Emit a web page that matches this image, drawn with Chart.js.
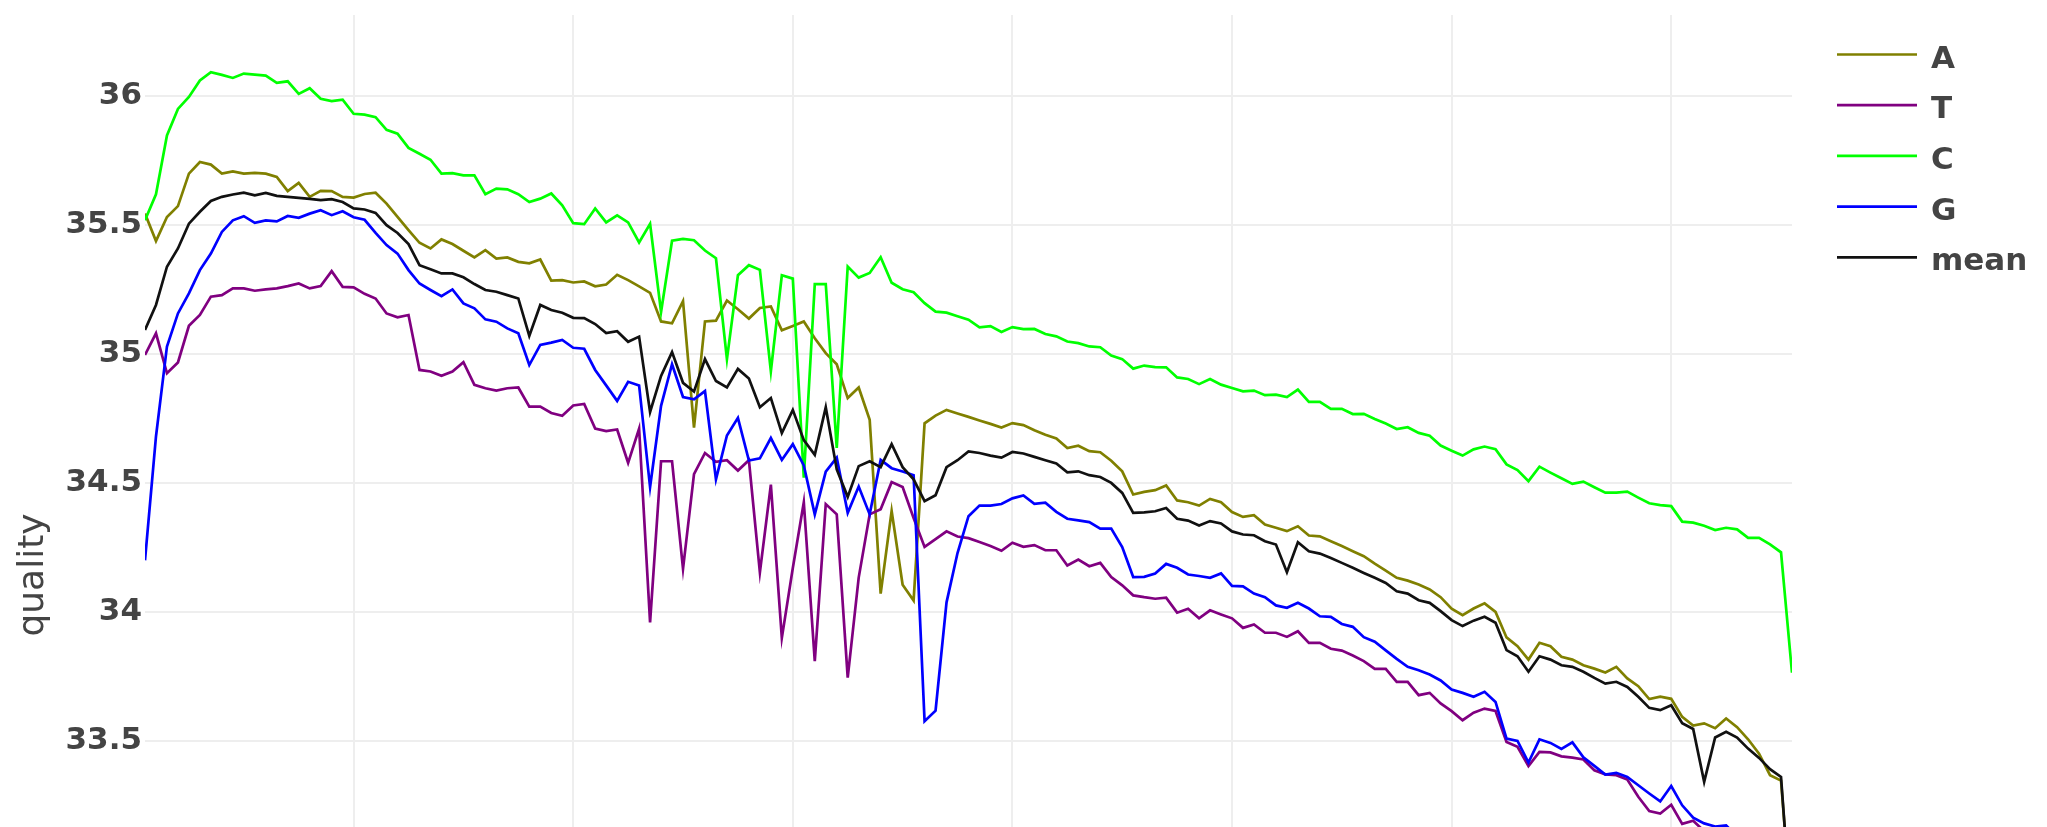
<!DOCTYPE html>
<html>
<head>
<meta charset="utf-8">
<script src="https://cdn.jsdelivr.net/npm/chart.js@4.4.1/dist/chart.umd.min.js"></script>
<style>
  html, body { margin: 0; padding: 0; background: #fff; }
  #wrap { width: 2047px; height: 827px; }
</style>
</head>
<body>
<div id="wrap"><canvas id="quality-chart"></canvas></div>
<script>
// read position along the read
const positions = [
  1, 2, 3, 4, 5, 6, 7, 8, 9, 10, 11, 12, 13, 14, 15, 16, 17, 18, 19, 20,
  21, 22, 23, 24, 25, 26, 27, 28, 29, 30, 31, 32, 33, 34, 35, 36, 37, 38, 39, 40,
  41, 42, 43, 44, 45, 46, 47, 48, 49, 50, 51, 52, 53, 54, 55, 56, 57, 58, 59, 60,
  61, 62, 63, 64, 65, 66, 67, 68, 69, 70, 71, 72, 73, 74, 75, 76, 77, 78, 79, 80,
  81, 82, 83, 84, 85, 86, 87, 88, 89, 90, 91, 92, 93, 94, 95, 96, 97, 98, 99, 100,
  101, 102, 103, 104, 105, 106, 107, 108, 109, 110, 111, 112, 113, 114, 115, 116, 117, 118, 119, 120,
  121, 122, 123, 124, 125, 126, 127, 128, 129, 130, 131, 132, 133, 134, 135, 136, 137, 138, 139, 140,
  141, 142, 143, 144, 145, 146, 147, 148, 149, 150, 151
];

const qualA = [
  35.544, 35.438, 35.531, 35.573, 35.699, 35.744, 35.734, 35.699, 35.708, 35.699,
  35.702, 35.699, 35.686, 35.631, 35.663, 35.609, 35.632, 35.631, 35.609, 35.606,
  35.620, 35.625, 35.583, 35.531, 35.480, 35.431, 35.409, 35.444, 35.426, 35.400,
  35.374, 35.402, 35.370, 35.374, 35.357, 35.351, 35.366, 35.284, 35.286, 35.277,
  35.281, 35.262, 35.269, 35.307, 35.286, 35.262, 35.237, 35.126, 35.119, 35.205,
  34.714, 35.126, 35.129, 35.207, 35.173, 35.137, 35.178, 35.184, 35.092, 35.108,
  35.126, 35.061, 35.003, 34.960, 34.829, 34.870, 34.745, 34.071, 34.391, 34.105,
  34.044, 34.731, 34.761, 34.783, 34.769, 34.756, 34.742, 34.729, 34.715, 34.732,
  34.724, 34.704, 34.687, 34.672, 34.635, 34.644, 34.623, 34.619, 34.586, 34.545,
  34.455, 34.465, 34.472, 34.490, 34.432, 34.425, 34.412, 34.438, 34.425, 34.387,
  34.368, 34.375, 34.339, 34.326, 34.313, 34.332, 34.296, 34.293, 34.274, 34.255,
  34.235, 34.216, 34.187, 34.160, 34.132, 34.121, 34.106, 34.087, 34.057, 34.012,
  33.987, 34.013, 34.033, 34.000, 33.901, 33.867, 33.815, 33.880, 33.867, 33.826,
  33.815, 33.793, 33.780, 33.765, 33.787, 33.742, 33.712, 33.662, 33.671, 33.663,
  33.593, 33.559, 33.568, 33.549, 33.587, 33.553, 33.506, 33.450, 33.367, 33.346,
  32.800
];

const qualT = [
  34.996, 35.080, 34.925, 34.967, 35.109, 35.151, 35.222, 35.228, 35.254, 35.254,
  35.245, 35.250, 35.254, 35.263, 35.273, 35.254, 35.263, 35.321, 35.260, 35.258,
  35.233, 35.215, 35.157, 35.142, 35.151, 34.938, 34.932, 34.915, 34.932, 34.968,
  34.880, 34.867, 34.858, 34.867, 34.870, 34.796, 34.796, 34.771, 34.760, 34.800,
  34.806, 34.711, 34.701, 34.707, 34.578, 34.711, 33.959, 34.584, 34.584, 34.167,
  34.534, 34.616, 34.582, 34.588, 34.548, 34.588, 34.153, 34.493, 33.899, 34.170,
  34.425, 33.809, 34.418, 34.378, 33.745, 34.133, 34.378, 34.398, 34.503, 34.484,
  34.364, 34.252, 34.282, 34.312, 34.292, 34.286, 34.271, 34.255, 34.237, 34.268,
  34.252, 34.259, 34.239, 34.239, 34.180, 34.203, 34.177, 34.190, 34.135, 34.103,
  34.064, 34.057, 34.051, 34.055, 33.997, 34.012, 33.975, 34.006, 33.990, 33.975,
  33.938, 33.951, 33.919, 33.919, 33.903, 33.925, 33.880, 33.880, 33.857, 33.850,
  33.831, 33.809, 33.779, 33.779, 33.729, 33.729, 33.677, 33.686, 33.645, 33.615,
  33.580, 33.609, 33.625, 33.616, 33.496, 33.477, 33.402, 33.457, 33.455, 33.440,
  33.435, 33.428, 33.386, 33.370, 33.367, 33.350, 33.283, 33.228, 33.218, 33.252,
  33.178, 33.190, 33.150, 33.120, 33.090, 33.050, 33.000, 32.950, 32.880, 32.840,
  32.300
];

const qualC = [
  35.518, 35.619, 35.847, 35.950, 35.996, 36.060, 36.092, 36.082, 36.070, 36.087,
  36.083, 36.079, 36.051, 36.057, 36.008, 36.030, 35.989, 35.980, 35.986, 35.931,
  35.928, 35.918, 35.869, 35.854, 35.799, 35.776, 35.753, 35.699, 35.701, 35.692,
  35.692, 35.619, 35.641, 35.638, 35.619, 35.589, 35.602, 35.622, 35.576, 35.507,
  35.503, 35.564, 35.510, 35.537, 35.510, 35.432, 35.504, 35.163, 35.439, 35.446,
  35.441, 35.401, 35.371, 34.980, 35.305, 35.344, 35.326, 34.933, 35.305, 35.292,
  34.520, 35.271, 35.271, 34.636, 35.339, 35.296, 35.314, 35.375, 35.276, 35.251,
  35.239, 35.197, 35.164, 35.160, 35.146, 35.133, 35.103, 35.108, 35.085, 35.104,
  35.096, 35.097, 35.077, 35.068, 35.048, 35.042, 35.029, 35.026, 34.994, 34.980,
  34.943, 34.955, 34.949, 34.948, 34.909, 34.903, 34.883, 34.903, 34.881, 34.868,
  34.855, 34.858, 34.840, 34.842, 34.833, 34.862, 34.814, 34.814, 34.787, 34.787,
  34.767, 34.768, 34.748, 34.730, 34.709, 34.716, 34.694, 34.683, 34.645, 34.625,
  34.606, 34.630, 34.641, 34.631, 34.572, 34.550, 34.507, 34.563, 34.540, 34.518,
  34.496, 34.505, 34.483, 34.462, 34.462, 34.466, 34.443, 34.421, 34.414, 34.410,
  34.350, 34.346, 34.334, 34.317, 34.326, 34.320, 34.287, 34.287, 34.262, 34.231,
  33.764
];

const qualG = [
  34.200, 34.680, 35.029, 35.157, 35.235, 35.325, 35.389, 35.473, 35.518, 35.534,
  35.508, 35.518, 35.514, 35.535, 35.528, 35.544, 35.557, 35.538, 35.553, 35.530,
  35.520, 35.469, 35.422, 35.389, 35.325, 35.273, 35.248, 35.224, 35.250, 35.196,
  35.177, 35.134, 35.125, 35.099, 35.080, 34.957, 35.035, 35.044, 35.054, 35.024,
  35.020, 34.938, 34.878, 34.818, 34.892, 34.878, 34.484, 34.799, 34.960, 34.833,
  34.824, 34.856, 34.514, 34.684, 34.752, 34.587, 34.595, 34.674, 34.589, 34.650,
  34.568, 34.378, 34.544, 34.598, 34.384, 34.486, 34.378, 34.589, 34.557, 34.544,
  34.530, 33.576, 33.617, 34.037, 34.228, 34.371, 34.412, 34.412, 34.418, 34.440,
  34.451, 34.419, 34.423, 34.388, 34.361, 34.355, 34.348, 34.323, 34.323, 34.251,
  34.135, 34.136, 34.149, 34.186, 34.171, 34.145, 34.139, 34.132, 34.149, 34.101,
  34.099, 34.071, 34.057, 34.025, 34.016, 34.035, 34.013, 33.983, 33.981, 33.953,
  33.942, 33.902, 33.884, 33.851, 33.818, 33.787, 33.774, 33.757, 33.734, 33.699,
  33.686, 33.671, 33.690, 33.651, 33.509, 33.500, 33.416, 33.506, 33.492, 33.469,
  33.494, 33.436, 33.403, 33.369, 33.376, 33.360, 33.328, 33.296, 33.265, 33.325,
  33.250, 33.202, 33.180, 33.168, 33.172, 33.130, 33.080, 33.020, 32.960, 32.900,
  32.400
];

const qualMean = [
  35.093, 35.190, 35.338, 35.409, 35.505, 35.551, 35.593, 35.609, 35.618, 35.625,
  35.615, 35.624, 35.613, 35.609, 35.605, 35.601, 35.596, 35.600, 35.589, 35.564,
  35.560, 35.547, 35.499, 35.469, 35.426, 35.344, 35.328, 35.312, 35.312, 35.297,
  35.271, 35.248, 35.241, 35.228, 35.215, 35.070, 35.190, 35.170, 35.160, 35.140,
  35.139, 35.116, 35.081, 35.088, 35.047, 35.067, 34.775, 34.915, 35.007, 34.888,
  34.854, 34.980, 34.895, 34.870, 34.942, 34.905, 34.793, 34.829, 34.693, 34.783,
  34.666, 34.609, 34.793, 34.552, 34.446, 34.565, 34.584, 34.561, 34.650, 34.561,
  34.514, 34.429, 34.452, 34.561, 34.588, 34.622, 34.616, 34.606, 34.598, 34.620,
  34.614, 34.601, 34.588, 34.575, 34.541, 34.545, 34.530, 34.523, 34.500, 34.461,
  34.384, 34.386, 34.390, 34.403, 34.361, 34.354, 34.335, 34.352, 34.343, 34.312,
  34.300, 34.297, 34.274, 34.261, 34.154, 34.270, 34.235, 34.226, 34.209, 34.190,
  34.171, 34.151, 34.132, 34.112, 34.080, 34.071, 34.045, 34.035, 34.003, 33.968,
  33.945, 33.966, 33.981, 33.958, 33.852, 33.828, 33.768, 33.828, 33.815, 33.793,
  33.787, 33.768, 33.744, 33.722, 33.729, 33.709, 33.671, 33.628, 33.619, 33.638,
  33.568, 33.546, 33.341, 33.513, 33.535, 33.513, 33.470, 33.434, 33.390, 33.360,
  32.780
];

const seriesNames = ["A", "T", "C", "G", "mean"];
const xTicks = [20, 40, 60, 80, 100, 120, 140];
const yTicks = [33.5, 34, 34.5, 35, 35.5, 36];

const seriesValues = [qualA, qualT, qualC, qualG, qualMean];
const seriesColors = ["#808000", "#800080", "#00ff00", "#0000ff", "#111111"];

// legend on the right side plus the rotated y title
const sideLegend = {
  id: "sideLegend",
  afterDraw(chart) {
    const ctx = chart.ctx;
    ctx.save();
    ctx.font = "bold 31px 'DejaVu Sans'";
    ctx.fillStyle = "#444";
    ctx.textBaseline = "alphabetic";
    chart.data.datasets.forEach((ds, i) => {
      const y = 54.5 + i * 50.7;
      ctx.strokeStyle = ds.borderColor;
      ctx.lineWidth = 2.7;
      ctx.beginPath();
      ctx.moveTo(1837, y);
      ctx.lineTo(1917, y);
      ctx.stroke();
      ctx.fillText(ds.label, 1931, y + 13);
    });

    ctx.translate(42.5, 575);
    ctx.rotate(-Math.PI / 2);
    ctx.font = "36px 'DejaVu Sans'";
    ctx.textAlign = "center";
    ctx.fillText("quality", 0, 0);
    ctx.restore();
  },
};

const datasets = seriesNames.map((name, idx) => ({
  label: name,
  data: positions.map((p, i) => ({ x: p, y: seriesValues[idx][i] })),
  borderColor: seriesColors[idx],
  backgroundColor: seriesColors[idx],
  borderWidth: 2.7,
  pointRadius: 0,
  tension: 0,
  fill: false,
  order: seriesNames.length - idx,
}));

new Chart(document.getElementById("quality-chart"), {
  type: "line",
  data: { datasets },
  options: {
    responsive: true,
    maintainAspectRatio: false,
    animation: false,
    layout: { padding: { top: 15, right: 255, bottom: 0, left: 0 } },
    plugins: {
      legend: { display: false },
      tooltip: { enabled: false },
    },
    scales: {
      x: {
        type: "linear",
        min: 1,
        max: 151,
        afterFit: (s) => {
          s.height = 0;
          s.paddingLeft = 0;
          s.paddingRight = 0;
        },
        afterBuildTicks: (s) => { s.ticks = xTicks.map((v) => ({ value: v })); },
        grid: { color: "#eeeeee", lineWidth: 2, drawTicks: false },
        border: { display: false },
        ticks: { display: false },
      },
      y: {
        min: 33.166,
        max: 36.314,
        afterFit: (s) => {
          s.width = 145;
          s.paddingTop = 0;
          s.paddingBottom = 0;
        },
        afterBuildTicks: (s) => { s.ticks = yTicks.map((v) => ({ value: v })); },
        grid: { color: "#eeeeee", lineWidth: 2, drawTicks: false },
        border: { display: false },
        ticks: {
          padding: 3,
          color: "#444",
          font: { family: "DejaVu Sans", size: 31, weight: "bold" },
          callback: (v) => String(v),
        },
      },
    },
  },
  plugins: [sideLegend],
});
</script>
</body>
</html>
